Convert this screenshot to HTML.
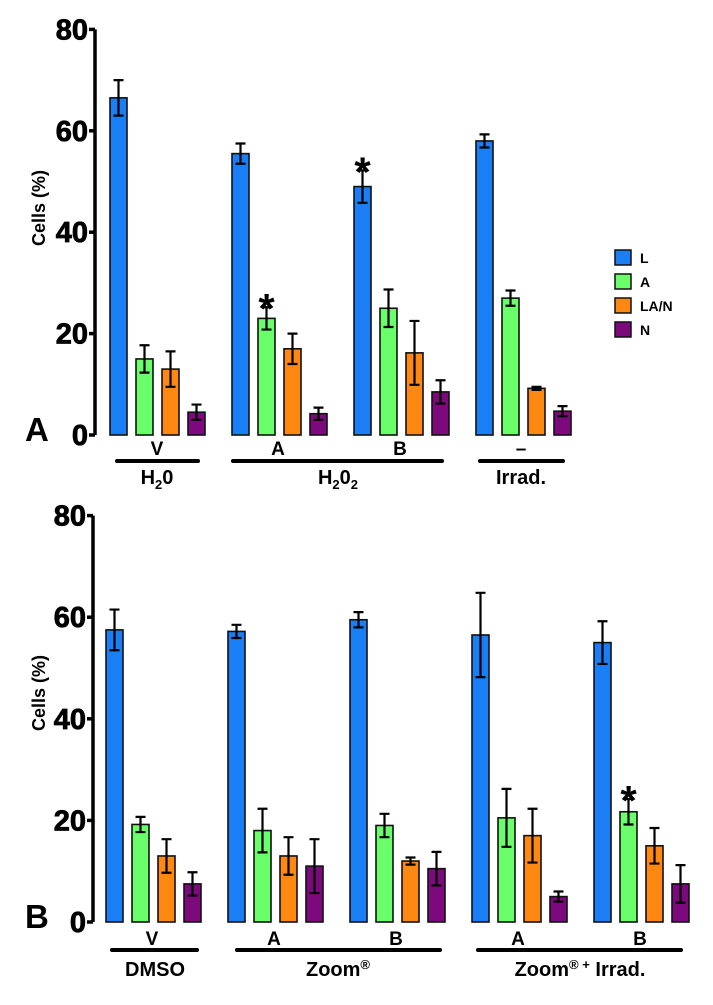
<!DOCTYPE html>
<html><head><meta charset="utf-8"><style>
body{margin:0;background:#fff;width:713px;height:1005px;overflow:hidden}
svg{display:block;font-family:"Liberation Sans",sans-serif;font-weight:bold}
</style></head><body>
<svg id="chart" width="713" height="1005" viewBox="0 0 713 1005"></svg>
<script>
const series = ['L','A','LA/N','N'];
const colors = ['#1a7ff5','#6aff6a','#ff8811','#7d0a7d'];
const ticks = [0,20,40,60,80];
const aValues = [[66.5,15,13,4.5],[55.5,23,17,4.2],[49,25,16.2,8.5],[58,27,9.2,4.7]];
const aErrors = [[3.5,2.7,3.5,1.5],[2,2.2,3,1.2],[3.2,3.7,6.3,2.3],[1.3,1.5,0.3,1]];
const aStars = [[1,1],[2,0]];
const bValues = [[57.5,19.2,13,7.5],[57.2,18,13,11],[59.5,19,12,10.5],[56.5,20.5,17,5],[55,21.7,15,7.5]];
const bErrors = [[4,1.5,3.3,2.3],[1.3,4.3,3.7,5.3],[1.5,2.3,0.7,3.3],[8.3,5.7,5.3,1],[4.2,2.5,3.5,3.7]];
const bStars = [[4,1]];
const NS='http://www.w3.org/2000/svg';
const svg=document.getElementById('chart');
function mk(tag,attrs,parent,text){const e=document.createElementNS(NS,tag);for(const k in attrs)e.setAttribute(k,attrs[k]);if(text!==undefined)e.textContent=text;(parent||svg).appendChild(e);return e;}
function panel(id,axisX,y0,pxPer,firstX,values,errors,stars,letter,titleY){
  const g=mk('g',{});
  
  
  const y=v=>y0-v*pxPer;
  const ax=mk('line',{x1:axisX,y1:y(80),x2:axisX,y2:y0,stroke:'#000','stroke-width':3.5},g);
  
  
  ticks.forEach(t=>{
    const tl=mk('line',{x1:axisX-6,y1:y(t),x2:axisX,y2:y(t),stroke:'#000','stroke-width':3.5},g);
    
    
    const tx=mk('text',{x:axisX-7,y:y(t)+10,'text-anchor':'end','font-size':29,stroke:'#000','stroke-width':0.8},g,String(t));
    
    
  });
  const tt=mk('text',{x:0,y:0,transform:`translate(45,${titleY}) rotate(-90)`,'text-anchor':'middle','font-size':18},g,'Cells (%)');
  
  
  const pl=mk('text',{x:25,y:y0+6,'font-size':33},g,letter);
  
  
  values.forEach((grp,gi)=>{
    grp.forEach((v,si)=>{
      const x=firstX+gi*122+si*26;
      const r=mk('rect',{x:x,y:y(v),width:17,height:v*pxPer,fill:colors[si],stroke:'#111','stroke-width':1.6},g);
      
      
      const e=errors[gi][si],cx=x+8.5;
      const eb=mk('path',{d:`M${cx},${y(v+e)}V${y(v-e)}M${cx-5},${y(v+e)}H${cx+5}M${cx-5},${y(v-e)}H${cx+5}`,stroke:'#000','stroke-width':2.2,fill:'none'},g);
      
      
    });
  });
  stars.forEach(([gi,si])=>{
    const v=values[gi][si]+errors[gi][si];
    const x=firstX+gi*122+si*26+8.5;
    const s=mk('text',{x:x,y:y(v)+16,'text-anchor':'middle','font-size':42},g,'*');
    
    
  });
  return g;
}
function lbl(x,y,t,size,name){const e=mk('text',{x:x,y:y,'text-anchor':'middle','font-size':size||17});return e;}
function bar(x1,x2,y,name){const l=mk('line',{x1:x1,y1:y,x2:x2,y2:y,stroke:'#000','stroke-width':4,'stroke-linecap':'round'});}
panel('a',95,435,5.07,110,aValues,aErrors,aStars,'A',208);
panel('b',93,922,5.08,106,bValues,bErrors,bStars,'B',693);
lbl(157,455,'','19','label-v').textContent='V';
lbl(278,455,'','19','label-a').textContent='A';
lbl(400,455,'','19','label-b').textContent='B';
lbl(521,455,'','19','label-none').textContent='–';
bar(117,198,461,'group-line-h2o');
bar(233,442,461,'group-line-h2o2');
bar(480,563,461,'group-line-irrad');
let t=lbl(157,484,'','20','label-h2o');t.innerHTML='H<tspan font-size="13" dy="5">2</tspan><tspan dy="-5">0</tspan>';
t=lbl(338,484,'','20','label-h2o2');t.innerHTML='H<tspan font-size="13" dy="5">2</tspan><tspan dy="-5">0</tspan><tspan font-size="13" dy="5">2</tspan>';
lbl(521,484,'','20','label-irrad').textContent='Irrad.';
lbl(152,945,'','19','label-v').textContent='V';
lbl(274,945,'','19','label-a').textContent='A';
lbl(396,945,'','19','label-b').textContent='B';
lbl(518,945,'','19','label-a').textContent='A';
lbl(640,945,'','19','label-b').textContent='B';
bar(112,197,950,'group-line-dmso');
bar(237,440,950,'group-line-zoom');
bar(478,681,950,'group-line-zoom-irrad');
lbl(155,976,'','20','label-dmso').textContent='DMSO';
t=lbl(338,976,'','20','label-zoom');t.innerHTML='Zoom<tspan font-size="13" dy="-7">®</tspan>';
t=lbl(580,976,'','20','label-zoom-irrad');t.innerHTML='Zoom<tspan font-size="13" dy="-7">®</tspan><tspan font-size="13"> +</tspan><tspan dy="7"> Irrad.</tspan>';
series.forEach((s,i)=>{
  const r=mk('rect',{x:615,y:250+i*24,width:16,height:15,fill:colors[i],stroke:'#111','stroke-width':1.5});
  
  
  const tx=mk('text',{x:640,y:263+i*24,'font-size':14},svg,s);
  
  
});
</script>
</body></html>
